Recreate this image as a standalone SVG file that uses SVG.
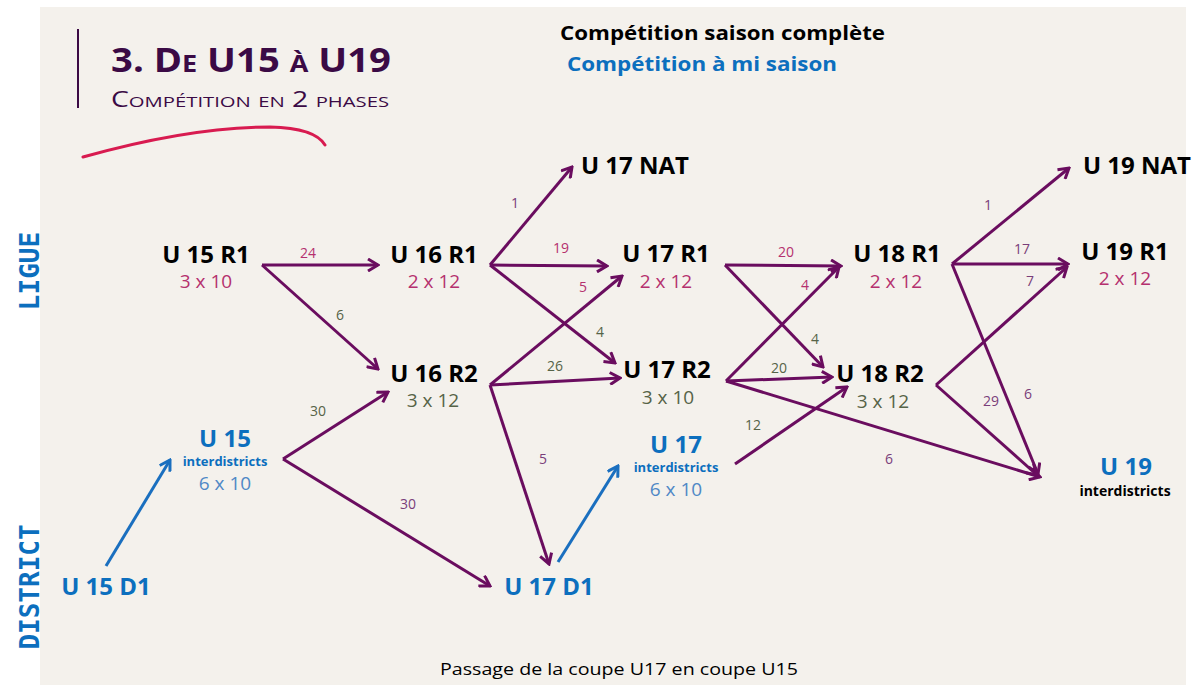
<svg xmlns="http://www.w3.org/2000/svg" width="1197" height="685" viewBox="0 0 1197 685">
<defs>
<marker id="ap" viewBox="0 0 14 14" refX="12" refY="7" markerWidth="14" markerHeight="14" markerUnits="userSpaceOnUse" orient="auto"><path d="M2,1 L12,7 L2,13" fill="none" stroke="#6a0d5f" stroke-width="3"/></marker>
<marker id="ab" viewBox="0 0 14 14" refX="12" refY="7" markerWidth="14" markerHeight="14" markerUnits="userSpaceOnUse" orient="auto"><path d="M2,1 L12,7 L2,13" fill="none" stroke="#1a6fbf" stroke-width="3"/></marker>
<style>
.n{font-family:"Open Sans",sans-serif;font-weight:bold;font-size:24px;fill:#000;text-anchor:middle}
.nb{font-family:"Open Sans",sans-serif;font-weight:bold;font-size:24px;fill:#0c6fbe;text-anchor:middle}
.sz{font-family:"Open Sans",sans-serif;font-size:19px;text-anchor:middle}
.pk{fill:#b5306e}
.gr{fill:#566347}
.lb{fill:#4f88c6}
.it{font-family:"Open Sans",sans-serif;font-weight:bold;font-size:13px;fill:#0c6fbe;text-anchor:middle}
.e{font-family:"Open Sans",sans-serif;font-size:14px;text-anchor:middle}
.pu{fill:#7a3e7a}
.lv{font-family:"DejaVu Sans Mono",monospace;font-weight:bold;font-size:26px;fill:#0c6fbe;text-anchor:middle}
.c line{stroke:#6a0d5f;stroke-width:3;marker-end:url(#ap)}
.c line.b{stroke:#1a6fbf;marker-end:url(#ab)}
</style>
</defs>
<rect width="1197" height="685" fill="#ffffff"/>
<rect x="40" y="7" width="1146" height="678" fill="#f4f1ec"/>

<g id="title">
<line x1="78" y1="29" x2="78" y2="108" stroke="#3b0a45" stroke-width="2"/>
<text x="111" y="72" font-family="Open Sans, sans-serif" font-weight="bold" font-size="34" font-variant="small-caps" fill="#3b0a45" textLength="280" lengthAdjust="spacingAndGlyphs">3. De U15 à U19</text>
<text x="111" y="107" font-family="Open Sans, sans-serif" font-size="21" font-variant="small-caps" fill="#3b0a45" textLength="278" lengthAdjust="spacingAndGlyphs">Compétition en 2 phases</text>
<path d="M83,157 Q190,127 270,127 Q315,128 325,145" fill="none" stroke="#d81b50" stroke-width="3" stroke-linecap="round"/>
</g>

<g id="legend">
<text x="560" y="40" font-family="Open Sans, sans-serif" font-weight="bold" font-size="20" fill="#000" textLength="325" lengthAdjust="spacingAndGlyphs">Compétition saison complète</text>
<text x="567" y="71" font-family="Open Sans, sans-serif" font-weight="bold" font-size="20" fill="#0c6fbe" textLength="270" lengthAdjust="spacingAndGlyphs">Compétition à mi saison</text>
</g>

<g id="levels">
<text class="lv" transform="translate(39,271) rotate(-90)">LIGUE</text>
<text class="lv" transform="translate(39,587) rotate(-90)">DISTRICT</text>
</g>

<g class="c" id="connectors">
<line x1="262" y1="265" x2="378" y2="265"/>
<line x1="262" y1="265" x2="378" y2="369"/>
<line x1="283" y1="459" x2="388" y2="392"/>
<line x1="283" y1="459" x2="490" y2="586"/>
<line class="b" x1="106" y1="566" x2="170" y2="460"/>
<line x1="490" y1="265" x2="572" y2="167"/>
<line x1="490" y1="265" x2="607" y2="266"/>
<line x1="490" y1="265" x2="615" y2="363"/>
<line x1="490" y1="385" x2="622" y2="276"/>
<line x1="490" y1="385" x2="620" y2="378"/>
<line x1="490" y1="385" x2="549" y2="564"/>
<line class="b" x1="558" y1="562" x2="618" y2="466"/>
<line x1="725" y1="265" x2="841" y2="266"/>
<line x1="725" y1="265" x2="823" y2="367"/>
<line x1="726" y1="381" x2="839" y2="267"/>
<line x1="726" y1="381" x2="832" y2="377"/>
<line x1="726" y1="381" x2="1040" y2="477"/>
<line x1="735" y1="464" x2="847" y2="387"/>
<line x1="952" y1="264" x2="1069" y2="168"/>
<line x1="952" y1="264" x2="1068" y2="264"/>
<line x1="952" y1="264" x2="1038" y2="474"/>
<line x1="936" y1="385" x2="1067" y2="267"/>
<line x1="936" y1="385" x2="1037" y2="475"/>
</g>

<g id="edge-labels">
<text class="e pk" x="308" y="258">24</text>
<text class="e gr" x="340" y="320">6</text>
<text class="e gr" x="318" y="416">30</text>
<text class="e pu" x="408" y="509">30</text>
<text class="e pu" x="515" y="208">1</text>
<text class="e pk" x="561" y="253">19</text>
<text class="e pk" x="583" y="292">5</text>
<text class="e gr" x="600" y="337">4</text>
<text class="e gr" x="555" y="371">26</text>
<text class="e pu" x="543" y="464">5</text>
<text class="e pk" x="786" y="257">20</text>
<text class="e pk" x="805" y="290">4</text>
<text class="e gr" x="815" y="344">4</text>
<text class="e gr" x="779" y="373">20</text>
<text class="e gr" x="753" y="430">12</text>
<text class="e pu" x="889" y="464">6</text>
<text class="e pu" x="991" y="406">29</text>
<text class="e pu" x="1028" y="399">6</text>
<text class="e pu" x="988" y="210">1</text>
<text class="e pu" x="1022" y="254">17</text>
<text class="e pu" x="1030" y="286">7</text>
</g>

<g id="u15r1"><text class="n" x="206" y="263">U 15 R1</text><text class="sz pk" x="206" y="288">3 x 10</text></g>
<g id="u16r1"><text class="n" x="434" y="263">U 16 R1</text><text class="sz pk" x="434" y="288">2 x 12</text></g>
<g id="u16r2"><text class="n" x="434" y="382">U 16 R2</text><text class="sz gr" x="433" y="407">3 x 12</text></g>
<g id="u17nat"><text class="n" x="635" y="174">U 17 NAT</text></g>
<g id="u17r1"><text class="n" x="666" y="262">U 17 R1</text><text class="sz pk" x="666" y="288">2 x 12</text></g>
<g id="u17r2"><text class="n" x="667" y="378">U 17 R2</text><text class="sz gr" x="668" y="404">3 x 10</text></g>
<g id="u18r1"><text class="n" x="897" y="262">U 18 R1</text><text class="sz pk" x="896" y="288">2 x 12</text></g>
<g id="u18r2"><text class="n" x="880" y="382">U 18 R2</text><text class="sz gr" x="883" y="408">3 x 12</text></g>
<g id="u19nat"><text class="n" x="1137" y="174">U 19 NAT</text></g>
<g id="u19r1"><text class="n" x="1125" y="260">U 19 R1</text><text class="sz pk" x="1125" y="285">2 x 12</text></g>
<g id="u19inter"><text class="nb" x="1126" y="475">U 19</text><text class="it" x="1125" y="496" style="fill:#000;font-size:14px">interdistricts</text></g>
<g id="u15inter"><text class="nb" x="225" y="447">U 15</text><text class="it" x="225" y="466">interdistricts</text><text class="sz lb" x="225" y="490">6 x 10</text></g>
<g id="u17inter"><text class="nb" x="676" y="453">U 17</text><text class="it" x="676" y="472">interdistricts</text><text class="sz lb" x="676" y="496">6 x 10</text></g>
<g id="u15d1"><text class="nb" x="106" y="595">U 15 D1</text></g>
<g id="u17d1"><text class="nb" x="549" y="595">U 17 D1</text></g>

<g id="footer">
<text x="440" y="675" font-family="Open Sans, sans-serif" font-size="17" fill="#000" textLength="358" lengthAdjust="spacingAndGlyphs">Passage de la coupe U17 en coupe U15</text>
</g>
</svg>
